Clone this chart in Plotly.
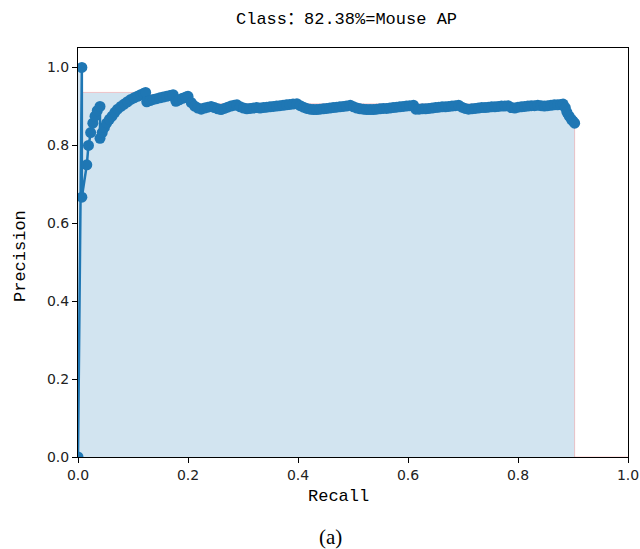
import numpy as np
import plotly.graph_objects as go

# Recall / precision points
recall = [0.000, 0.007, 0.007, 0.016, 0.019, 0.023, 0.027, 0.031, 0.035, 0.040,
          0.040, 0.044, 0.048, 0.052, 0.057, 0.062, 0.067, 0.072, 0.078, 0.084,
          0.090, 0.096, 0.102, 0.108, 0.114, 0.119, 0.123, 0.125, 0.131, 0.137,
          0.143, 0.149, 0.155, 0.161, 0.167, 0.173, 0.178, 0.184, 0.190, 0.196,
          0.200, 0.206, 0.212, 0.218, 0.224, 0.230, 0.236, 0.242, 0.248, 0.254,
          0.260, 0.266, 0.272, 0.278, 0.284, 0.289, 0.295, 0.301, 0.307, 0.313,
          0.319, 0.325, 0.331, 0.337, 0.343, 0.349, 0.355, 0.361, 0.367, 0.373,
          0.379, 0.385, 0.391, 0.398, 0.404, 0.410, 0.416, 0.422, 0.428, 0.434,
          0.440, 0.446, 0.452, 0.458, 0.464, 0.470, 0.476, 0.482, 0.488, 0.495,
          0.501, 0.507, 0.513, 0.519, 0.525, 0.531, 0.537, 0.543, 0.549, 0.555,
          0.561, 0.567, 0.573, 0.579, 0.585, 0.591, 0.597, 0.603, 0.610, 0.614,
          0.620, 0.626, 0.632, 0.638, 0.644, 0.650, 0.656, 0.662, 0.668, 0.674,
          0.680, 0.686, 0.692, 0.698, 0.704, 0.710, 0.716, 0.722, 0.728, 0.734,
          0.740, 0.746, 0.752, 0.758, 0.764, 0.770, 0.776, 0.782, 0.788, 0.794,
          0.800, 0.806, 0.812, 0.818, 0.824, 0.830, 0.836, 0.842, 0.848, 0.854,
          0.860, 0.866, 0.872, 0.878, 0.882, 0.886, 0.889, 0.893, 0.897, 0.900,
          0.903]
precision = [0.000, 1.000, 0.667, 0.750, 0.800, 0.833, 0.857, 0.875, 0.889, 0.900,
             0.818, 0.833, 0.846, 0.857, 0.867, 0.875, 0.885, 0.893, 0.900, 0.906,
             0.912, 0.918, 0.922, 0.926, 0.930, 0.933, 0.936, 0.912, 0.915, 0.918,
             0.920, 0.922, 0.924, 0.926, 0.928, 0.930, 0.913, 0.917, 0.921, 0.924,
             0.926, 0.910, 0.901, 0.896, 0.893, 0.896, 0.898, 0.900, 0.897, 0.894,
             0.892, 0.895, 0.898, 0.901, 0.903, 0.904, 0.899, 0.896, 0.894, 0.895,
             0.896, 0.897, 0.896, 0.897, 0.898, 0.899, 0.900, 0.901, 0.902, 0.903,
             0.904, 0.905, 0.906, 0.907, 0.902, 0.898, 0.895, 0.893, 0.892, 0.892,
             0.893, 0.894, 0.895, 0.896, 0.897, 0.898, 0.899, 0.900, 0.901, 0.903,
             0.899, 0.896, 0.894, 0.893, 0.892, 0.892, 0.892, 0.893, 0.894, 0.895,
             0.895, 0.896, 0.897, 0.898, 0.899, 0.900, 0.901, 0.902, 0.903, 0.893,
             0.893, 0.894, 0.894, 0.895, 0.896, 0.897, 0.898, 0.899, 0.899, 0.900,
             0.901, 0.902, 0.903, 0.898, 0.895, 0.893, 0.894, 0.895, 0.896, 0.897,
             0.897, 0.898, 0.899, 0.899, 0.900, 0.901, 0.901, 0.902, 0.897, 0.896,
             0.898, 0.899, 0.900, 0.901, 0.902, 0.902, 0.903, 0.902, 0.901, 0.902,
             0.903, 0.904, 0.904, 0.905, 0.906, 0.897, 0.885, 0.875, 0.867, 0.862,
             0.857]

title_text = "Class：82.38%=Mouse AP"
x_label = "Recall"
y_label = "Precision"
caption = "(a)"
tick_vals = [0.0, 0.2, 0.4, 0.6, 0.8, 1.0]
tick_text = ["0.0", "0.2", "0.4", "0.6", "0.8", "1.0"]

# VOC-style interpolated precision envelope (area under curve)
mrec = [0.0] + list(recall) + [1.0]
mpre = [0.0] + list(precision) + [0.0]
for i in range(len(mpre) - 2, -1, -1):
    mpre[i] = max(mpre[i], mpre[i + 1])
area_x = mrec[:-1] + [mrec[-2]] + [mrec[-1]]
area_y = mpre[:-1] + [0.0] + [mpre[-1]]

fig = go.Figure()
fig.add_trace(go.Scatter(
    x=area_x, y=area_y, mode="lines", fill="tozeroy",
    fillcolor="rgba(31,119,180,0.2)",
    line=dict(color="rgba(255,0,0,0.2)", width=1),
    hoverinfo="skip", showlegend=False))
fig.add_trace(go.Scatter(
    x=recall, y=precision, mode="lines+markers",
    line=dict(color="#1f77b4", width=2.5),
    marker=dict(color="#1f77b4", size=11),
    showlegend=False))

axis_common = dict(showline=True, linecolor="black", linewidth=1, mirror=True,
                   ticks="outside", ticklen=5, tickwidth=1, tickcolor="black",
                   showgrid=False, zeroline=False, automargin=False,
                   tickfont=dict(family="DejaVu Sans", size=14, color="#222"))
fig.update_xaxes(range=[0, 1.0], tickvals=tick_vals, ticktext=tick_text, **axis_common)
fig.update_yaxes(range=[0, 1.05], tickvals=tick_vals, ticktext=tick_text, **axis_common)

W, H = 640, 549
L, R, T, B = 78, 628, 48, 457
pw, ph = R - L, B - T

def px(xp):
    return (xp - L) / pw

def py(yp):
    return (B - yp) / ph

mono = "Liberation Mono, Noto Sans CJK SC, monospace"
annots = [
    dict(text=title_text, x=px(346), y=py(20), font=dict(family=mono, size=17, color="black")),
    dict(text=x_label, x=px(338), y=py(496), font=dict(family=mono, size=17, color="black")),
    dict(text=y_label, x=px(20), y=py(256), textangle=-90, font=dict(family=mono, size=17, color="black")),
    dict(text=caption, x=px(330), y=py(537), font=dict(family="Liberation Serif", size=21, color="black")),
]
for a in annots:
    a.update(xref="paper", yref="paper", showarrow=False, xanchor="center", yanchor="middle")

fig.update_layout(
    width=W, height=H,
    margin=dict(l=L, r=W - R, t=T, b=H - B),
    paper_bgcolor="white", plot_bgcolor="white",
    annotations=annots,
)

fig.write_html("out.html")
